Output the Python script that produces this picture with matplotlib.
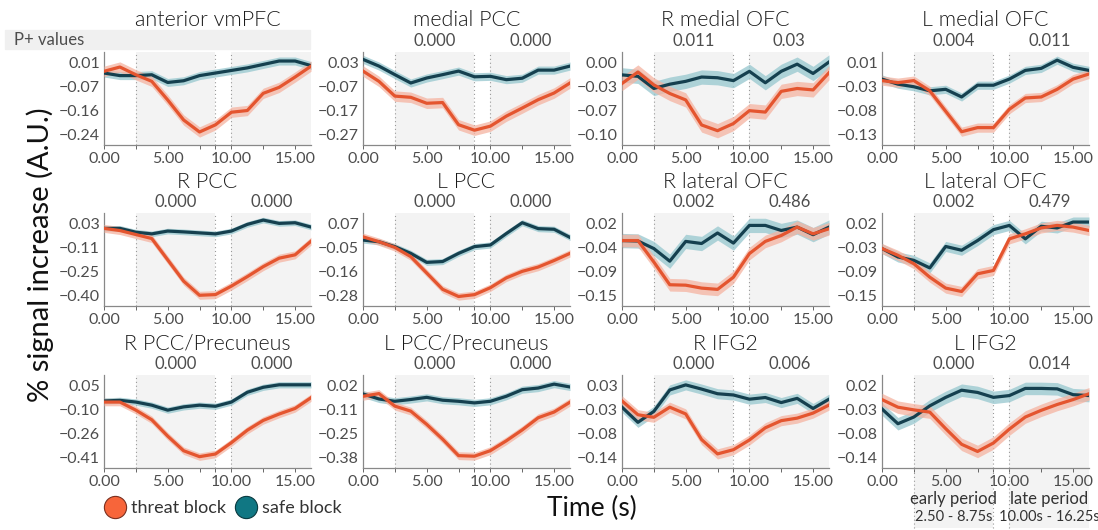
import numpy as np
import matplotlib
matplotlib.use("Agg")
import matplotlib.pyplot as plt
from matplotlib.lines import Line2D

plt.rcParams['font.family'] = ['Lato', 'DejaVu Sans']
plt.rcParams['axes.unicode_minus'] = True

# 时间点 (s)
time = np.arange(14) * 1.25
early = (2.5, 8.75)
late = (10.0, 16.25)

regions = ['anterior vmPFC', 'medial PCC', 'R medial OFC', 'L medial OFC',
           'R PCC', 'L PCC', 'R lateral OFC', 'L lateral OFC',
           'R PCC/Precuneus', 'L PCC/Precuneus', 'R IFG2', 'L IFG2']

p_early = ['0.000', '0.000', '0.011', '0.004',
           '0.000', '0.000', '0.002', '0.002',
           '0.000', '0.000', '0.000', '0.000']
p_late = ['0.000', '0.000', '0.03', '0.011',
          '0.000', '0.000', '0.486', '0.479',
          '0.000', '0.000', '0.006', '0.014']

ytick_labels = [
    ['0.01', '−0.07', '−0.16', '−0.24'],
    ['0.03', '−0.07', '−0.17', '−0.27'],
    ['0.00', '−0.03', '−0.07', '−0.10'],
    ['0.01', '−0.03', '−0.08', '−0.13'],
    ['0.03', '−0.11', '−0.25', '−0.40'],
    ['0.07', '−0.05', '−0.16', '−0.28'],
    ['0.02', '−0.04', '−0.09', '−0.15'],
    ['0.02', '−0.03', '−0.09', '−0.15'],
    ['0.05', '−0.10', '−0.26', '−0.41'],
    ['0.02', '−0.11', '−0.25', '−0.38'],
    ['0.03', '−0.03', '−0.08', '−0.14'],
    ['0.02', '−0.03', '−0.08', '−0.14'],
]

# 威胁条件 (threat block) 平均信号
threat = [
    [-0.020, -0.005, -0.032, -0.055, -0.120, -0.190, -0.232, -0.207, -0.163, -0.157, -0.097, -0.076, -0.040, -0.002],
    [-0.005, -0.048, -0.110, -0.115, -0.140, -0.137, -0.230, -0.253, -0.236, -0.194, -0.160, -0.125, -0.097, -0.055],
    [-0.029, -0.013, -0.031, -0.043, -0.052, -0.087, -0.095, -0.085, -0.067, -0.069, -0.040, -0.036, -0.038, -0.014],
    [-0.025, -0.029, -0.025, -0.045, -0.085, -0.125, -0.117, -0.117, -0.081, -0.059, -0.057, -0.042, -0.022, -0.012],
    [0.002, -0.011, -0.035, -0.059, -0.187, -0.315, -0.400, -0.396, -0.345, -0.288, -0.228, -0.177, -0.157, -0.075],
    [0.006, -0.018, -0.046, -0.091, -0.171, -0.251, -0.286, -0.277, -0.243, -0.195, -0.163, -0.142, -0.110, -0.075],
    [-0.020, -0.020, -0.071, -0.125, -0.126, -0.133, -0.136, -0.107, -0.051, -0.022, -0.008, 0.012, -0.004, 0.008],
    [-0.039, -0.055, -0.075, -0.107, -0.133, -0.141, -0.099, -0.091, -0.016, -0.004, 0.010, 0.016, 0.012, 0.004],
    [-0.055, -0.055, -0.107, -0.169, -0.274, -0.368, -0.406, -0.389, -0.316, -0.236, -0.173, -0.132, -0.096, -0.027],
    [-0.039, -0.024, -0.094, -0.122, -0.196, -0.279, -0.371, -0.374, -0.343, -0.288, -0.227, -0.159, -0.127, -0.072],
    [-0.006, -0.039, -0.045, -0.021, -0.037, -0.098, -0.132, -0.122, -0.099, -0.070, -0.053, -0.047, -0.035, -0.016],
    [-0.011, -0.028, -0.034, -0.039, -0.076, -0.111, -0.127, -0.108, -0.077, -0.050, -0.035, -0.022, -0.011, 0.002],
]

# 安全条件 (safe block) 平均信号
safe = [
    [-0.026, -0.035, -0.035, -0.032, -0.059, -0.053, -0.035, -0.026, -0.017, -0.008, 0.004, 0.016, 0.016, 0.000],
    [0.044, 0.016, -0.020, -0.055, -0.034, -0.020, -0.005, -0.029, -0.027, -0.041, -0.035, -0.001, -0.001, 0.016],
    [-0.017, -0.019, -0.036, -0.030, -0.026, -0.020, -0.021, -0.025, -0.012, -0.028, -0.012, -0.002, -0.015, 0.001],
    [-0.022, -0.032, -0.037, -0.045, -0.042, -0.057, -0.034, -0.034, -0.022, -0.005, -0.001, 0.015, 0.001, -0.005],
    [0.002, 0.002, -0.021, -0.031, -0.014, -0.019, -0.025, -0.031, -0.014, 0.026, 0.052, 0.032, 0.036, 0.010],
    [-0.010, -0.018, -0.042, -0.075, -0.119, -0.115, -0.075, -0.042, -0.034, 0.022, 0.075, 0.046, 0.043, 0.003],
    [-0.020, -0.021, -0.039, -0.069, -0.022, -0.027, -0.002, -0.026, 0.016, 0.016, 0.004, 0.012, -0.006, 0.012],
    [-0.039, -0.059, -0.067, -0.085, -0.034, -0.043, -0.020, 0.006, 0.016, -0.016, 0.014, 0.010, 0.024, 0.024],
    [-0.048, -0.044, -0.055, -0.075, -0.107, -0.086, -0.075, -0.082, -0.055, 0.008, 0.040, 0.056, 0.056, 0.056],
    [-0.026, -0.054, -0.067, -0.057, -0.045, -0.061, -0.067, -0.076, -0.067, -0.039, -0.002, 0.007, 0.029, 0.013],
    [-0.021, -0.057, -0.031, 0.020, 0.032, 0.022, 0.011, 0.008, -0.002, 0.002, -0.010, 0.000, -0.024, -0.002],
    [-0.032, -0.065, -0.050, -0.025, -0.006, 0.010, 0.005, -0.006, -0.002, 0.014, 0.014, 0.013, 0.000, -0.002],
]

# 标准误 (半宽)
threat_err = [0.018, 0.022, 0.010, 0.009, 0.024, 0.018, 0.015, 0.012, 0.024, 0.022, 0.012, 0.014]
safe_err = [0.014, 0.017, 0.010, 0.008, 0.017, 0.015, 0.017, 0.012, 0.020, 0.020, 0.012, 0.014]

threat_line = '#e4552f'
threat_fill = '#f5b3a1'
safe_line = '#15404f'
safe_fill = '#9ccad1'
period_gray = '#f3f3f3'
text_gray = '#4d4d4d'

W, H = 1098, 530
fig = plt.figure(figsize=(W / 100, H / 100), dpi=100)

col_left = [104, 363, 622, 882]
row_top = [52, 213, 375]
ax_w, ax_h = 207, 93

for i, name in enumerate(regions):
    r, c = divmod(i, 4)
    ax = fig.add_axes([col_left[c] / W, 1 - (row_top[r] + ax_h) / H, ax_w / W, ax_h / H])

    ticks = np.linspace(float(ytick_labels[i][0].replace('−', '-')),
                        float(ytick_labels[i][-1].replace('−', '-')), 4)
    span = ticks[0] - ticks[-1]
    ax.set_ylim(ticks[-1] - 0.15 * span, ticks[0] + 0.15 * span)
    ax.set_xlim(0, 16.25)

    # 早期 / 晚期 区间背景
    for a, b in (early, late):
        ax.axvspan(a, b, color=period_gray, zorder=0, lw=0)
    for xv in (2.5, 8.75, 10.0):
        ax.axvline(xv, color='#999999', ls=(0, (1, 2.5)), lw=0.8, zorder=1)

    t = np.array(threat[i])
    s = np.array(safe[i])
    ax.fill_between(time, s - safe_err[i], s + safe_err[i], color=safe_fill, alpha=0.8, lw=0, zorder=2)
    ax.fill_between(time, t - threat_err[i], t + threat_err[i], color=threat_fill, alpha=0.75, lw=0, zorder=3)
    ax.plot(time, s, color=safe_line, lw=2.3, zorder=4)
    ax.plot(time, t, color=threat_line, lw=2.3, zorder=5)

    ax.set_yticks(ticks)
    ax.set_yticklabels(ytick_labels[i])
    ax.set_xticks([0, 5, 10, 15])
    ax.set_xticklabels(['0.00', '5.00', '10.00', '15.00'])
    ax.set_xticks([2.5, 7.5, 8.75, 12.5], minor=True)
    ax.tick_params(axis='both', labelsize=11.5, colors=text_gray, length=3, width=0.6, pad=2)
    ax.tick_params(axis='x', which='minor', length=3, width=0.6, color=text_gray)
    ax.tick_params(axis='y', length=0, pad=3)
    for side in ('top', 'right'):
        ax.spines[side].set_visible(False)
    for side in ('left', 'bottom'):
        ax.spines[side].set_color('#888888')
        ax.spines[side].set_linewidth(0.9)

    ax.set_title(name, fontsize=15.5, color='#1a1a1a', fontweight=300, pad=19 if r == 0 else 18)
    ax.text(np.mean(early), 1.03, p_early[i], transform=ax.get_xaxis_transform(),
            ha='center', va='bottom', fontsize=12, color=text_gray)
    ax.text(np.mean(late), 1.03, p_late[i], transform=ax.get_xaxis_transform(),
            ha='center', va='bottom', fontsize=12, color=text_gray)

    # 最后一个子图下方标注时间区间
    if i == len(regions) - 1:
        for (a, b), lab1, lab2 in ((early, 'early period', '2.50 - 8.75s'),
                                   (late, 'late period', '10.00s - 16.25s')):
            ax.axvspan(a, b, ymin=-0.65, ymax=0, color=period_gray, lw=0, zorder=0, clip_on=False)
            ax.text((a + b) / 2, -0.33, lab1, transform=ax.get_xaxis_transform(),
                    ha='center', va='center', fontsize=12, color='#333333')
            ax.text((a + b) / 2, -0.53, lab2, transform=ax.get_xaxis_transform(),
                    ha='center', va='center', fontsize=10.5, color='#333333')
        for xv in (2.5, 8.75, 10.0):
            ax.plot([xv, xv], [-0.65, 0], transform=ax.get_xaxis_transform(),
                    color='#999999', ls=(0, (1, 2.5)), lw=0.8, clip_on=False)

# P+ values 标签条
fig.patches.append(plt.Rectangle((5 / W, 1 - 49 / H), 305 / W, 19 / H, transform=fig.transFigure,
                                 color='#f0f0f0', zorder=0))
fig.text(14 / W, 1 - 40 / H, 'P+ values', fontsize=12, color=text_gray, va='center', ha='left')

fig.text(40 / W, 0.52, '% signal increase (A.U.)', rotation=90, fontsize=21,
         va='center', ha='center', color='#111111')
fig.text(592 / W, 1 - 508 / H, 'Time (s)', fontsize=19, va='center', ha='center', color='#111111')

handles = [Line2D([], [], ls='', marker='o', ms=16, mfc='#f7653a', mec='#7a3020', mew=0.8),
           Line2D([], [], ls='', marker='o', ms=16, mfc='#107783', mec='#0a3a40', mew=0.8)]
fig.legend(handles, ['threat block', 'safe block'], loc='center left',
           bbox_to_anchor=(88 / W, 1 - 508 / H), ncol=2, frameon=False, fontsize=13,
           handletextpad=0.3, columnspacing=0.5, handlelength=1.2, labelcolor='#333333')

fig.savefig('out.png', dpi=100)
